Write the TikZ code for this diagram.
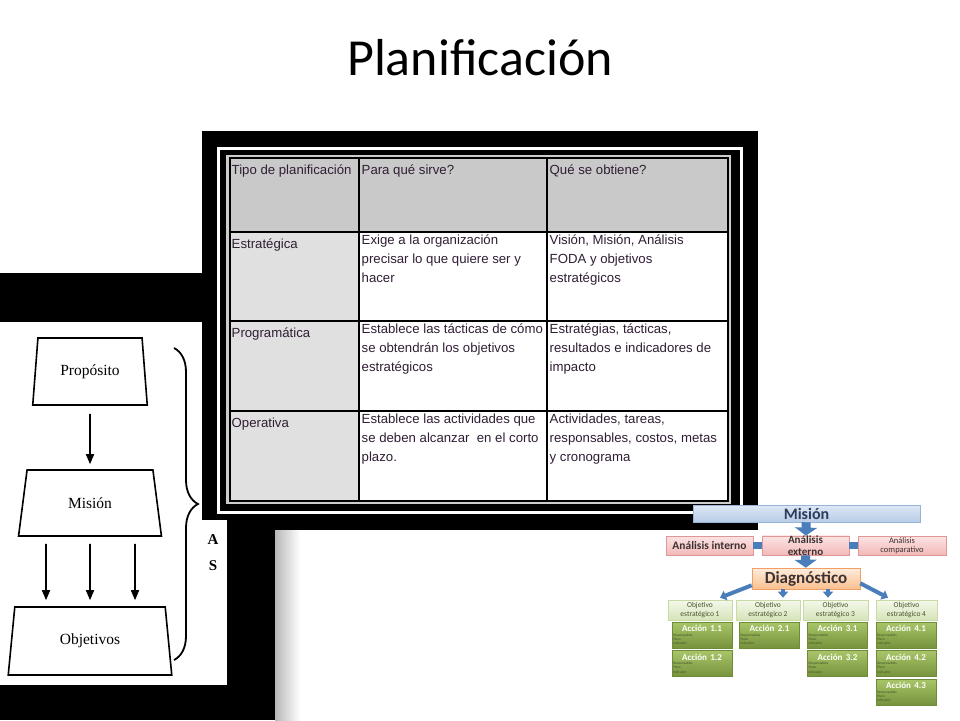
\documentclass[tikz,border=0pt]{standalone}
\usepackage{fontspec}
\setmainfont{Liberation Serif}
\newfontfamily\calibri{Carlito}
\newfontfamily\arial{Liberation Sans}
\usetikzlibrary{positioning}
\usetikzlibrary{shapes.geometric}
\usetikzlibrary{arrows.meta}
\usetikzlibrary{decorations.pathreplacing}

\definecolor{textotabla}{RGB}{48,30,52}
\definecolor{cabecera}{RGB}{201,201,201}
\definecolor{colgris}{RGB}{224,224,224}
\definecolor{azul}{RGB}{74,126,187}
\definecolor{celeste1}{RGB}{222,232,245}
\definecolor{celeste2}{RGB}{184,204,230}
\definecolor{celeste3}{RGB}{150,180,215}
\definecolor{rosa1}{RGB}{252,228,228}
\definecolor{rosa2}{RGB}{242,184,184}
\definecolor{rosa3}{RGB}{225,150,150}
\definecolor{naranja1}{RGB}{253,236,220}
\definecolor{naranja2}{RGB}{250,192,143}
\definecolor{naranja3}{RGB}{240,160,100}
\definecolor{verdeclaro1}{RGB}{244,248,234}
\definecolor{verdeclaro2}{RGB}{214,228,186}
\definecolor{verdeclaro3}{RGB}{200,218,165}
\definecolor{verde1}{RGB}{168,198,104}
\definecolor{verde2}{RGB}{118,146,60}
\definecolor{verde3}{RGB}{110,140,55}
\definecolor{textocaja}{RGB}{60,50,50}
\definecolor{textomision}{RGB}{45,60,90}
\definecolor{textoobj}{RGB}{70,85,45}

\newcommand{\accion}[1]{{\centering\fontsize{9}{10}\selectfont\bfseries\color{white}Acción #1\par}%
{\raggedright\fontsize{3.6}{4.3}\selectfont\color{textoobj}Responsables\par Plazo\par Indicador\par}}

\tikzset{
	titulo/.style={anchor=base, font=\calibri\fontsize{52}{60}\selectfont},
	celda/.style={anchor=north west, inner sep=1pt, align=left, text=textotabla,
		font=\arial\fontsize{13.2}{19}\selectfont, execute at begin node=\strut},
	rejilla/.style={line width=2pt},
	trap/.style={trapezium, draw, line width=1.6pt, trapezium stretches=true,
		font=\fontsize{15.5}{18}\selectfont},
	flecha/.style={-{Triangle[length=10pt,width=8pt]}, line width=1.6pt},
	llave/.style={line width=1.8pt, decorate, decoration={brace, amplitude=24pt}},
	letra/.style={font=\bfseries\fontsize{15}{18}\selectfont},
	caja/.style={draw, inner sep=0pt, line width=0.6pt, align=center},
	mision/.style={caja, top color=celeste1, bottom color=celeste2, draw=celeste3,
		text=textomision, font=\calibri\bfseries\fontsize{16}{17}\selectfont},
	analisis/.style={caja, top color=rosa1, bottom color=rosa2, draw=rosa3, text=textocaja,
		minimum width=87pt, minimum height=19pt},
	diag/.style={caja, top color=naranja1, bottom color=naranja2, draw=naranja3, text=textocaja,
		font=\calibri\bfseries\fontsize{17}{18}\selectfont},
	objetivo/.style={caja, top color=verdeclaro1, bottom color=verdeclaro2, draw=verdeclaro3,
		text=textoobj, minimum height=20pt, font=\calibri\fontsize{7.5}{8.5}\selectfont},
	accionbox/.style={draw=verde3, line width=0.6pt, top color=verde1, bottom color=verde2,
		inner sep=1pt, text width=58pt, minimum height=26pt, font=\calibri},
	fgrande/.style={azul, line width=9pt, -{Triangle[length=8pt,width=22pt]}},
	fchica/.style={azul, line width=4pt, -{Triangle[length=6pt,width=10pt]}},
	union/.style={azul, line width=7pt}
}

\begin{document}
\begin{tikzpicture}[x=1pt,y=-1pt]
	\useasboundingbox (0,0) rectangle (960,720);
	\fill[white] (0,0) rectangle (960,720);

	\node[titulo] (tit) at (480,75) {Planificación};

	% fondo de la imagen izquierda
	\fill[black] (0,273) rectangle (275,720);
	\shade[left color=black!28, right color=white] (275,530) rectangle (300,720);
	\fill[white] (0,322) rectangle (227,685);

	% marco de la tabla
	\fill[black] (202,131) rectangle (758,530);
	\fill[white] (202,520) rectangle (227,685);
	\draw[white, line width=3pt] (218.5,148) rectangle (741.5,512);
	\draw[black!20, line width=2.5pt] (227.5,156) rectangle (730,503);

	% tabla
	\fill[cabecera] (230,158) rectangle (728,232);
	\fill[colgris] (230,232) rectangle (359,501);
	\fill[white] (359,232) rectangle (728,501);
	\draw[rejilla] (230,158) rectangle (728,501)
		(359,158) -- (359,501) (547,158) -- (547,501)
		(230,232) -- (728,232) (230,321) -- (728,321) (230,411) -- (728,411);

	\node[celda] (t1) at (230.5,160) {Tipo de planificación};
	\node[celda] (t2) at (360.5,160) {Para qué sirve?};
	\node[celda] (t3) at (548.5,160) {Qué se obtiene?};
	\node[celda] (e1) at (230.5,234) {Estratégica};
	\node[celda] (e2) at (360.5,234) {Exige a la organización\\precisar lo que quiere ser y\\hacer};
	\node[celda] (e3) at (548.5,234) {Visión, Misión, Análisis\\FODA y objetivos\\estratégicos};
	\node[celda] (p1) at (230.5,323) {Programática};
	\node[celda] (p2) at (360.5,323) {Establece las tácticas de cómo\\se obtendrán los objetivos\\estratégicos};
	\node[celda] (p3) at (548.5,323) {Estratégias, tácticas,\\resultados e indicadores de\\impacto};
	\node[celda] (op1) at (230.5,413) {Operativa};
	\node[celda] (op2) at (360.5,413) {Establece las actividades que\\se deben alcanzar\ \ en el corto\\plazo.};
	\node[celda] (op3) at (548.5,413) {Actividades, tareas,\\responsables, costos, metas\\y cronograma};

	% diagrama izquierdo
	\node[trap, minimum width=115pt, minimum height=67pt, trapezium angle=81] (prop) at (90,371.5) {Propósito};
	\node[trap, minimum width=143pt, minimum height=66pt, trapezium angle=79] (mis) at (90,503) {Misión};
	\node[trap, minimum width=164pt, minimum height=68pt, trapezium angle=82] (obj) at (90,641) {Objetivos};

	\draw[flecha, shorten <=8pt, shorten >=5pt] (prop) -- (mis);
	\draw[flecha] ([xshift=-44pt,yshift=-7pt]mis.south) -- ([xshift=-44pt,yshift=6pt]obj.north);
	\draw[flecha] ([yshift=-7pt]mis.south) -- ([yshift=6pt]obj.north);
	\draw[flecha] ([xshift=45pt,yshift=-7pt]mis.south) -- ([xshift=45pt,yshift=6pt]obj.north);

	\draw[llave] (174,348) -- (174,660);
	\node[letra] (la) at (213,540) {A};
	\node[letra] (ls) at (213,566) {S};

	% diagrama derecho
	\node[mision, minimum width=227pt, minimum height=17pt] (mision) at (806.5,513.5) {Misión};
	\node[analisis, font=\calibri\bfseries\fontsize{11.5}{12}\selectfont] (interno) at (709.5,545.5) {Análisis interno};
	\node[analisis, font=\calibri\bfseries\fontsize{11}{11.5}\selectfont] (externo) at (805.5,545.5) {Análisis\\externo};
	\node[analisis, minimum width=88pt, font=\calibri\fontsize{8.5}{9.5}\selectfont] (comp) at (902,545.5) {Análisis\\comparativo};
	\node[diag, minimum width=108pt, minimum height=21pt] (diag) at (806,578.5) {Diagnóstico};

	\draw[union] (interno) -- (externo);
	\draw[union] (externo) -- (comp);
	\draw[fgrande] (mision) -- (externo);
	\draw[fgrande] (externo) -- (diag);

	\node[objetivo, minimum width=64pt] (ob1) at (700,610) {Objetivo\\estratégico 1};
	\node[objetivo, minimum width=64pt] (ob2) at (768,610) {Objetivo\\estratégico 2};
	\node[objetivo, minimum width=65pt] (ob3) at (835.5,610) {Objetivo\\estratégico 3};
	\node[objetivo, minimum width=61pt] (ob4) at (906.5,610) {Objetivo\\estratégico 4};

	\draw[fchica] ([yshift=4pt]diag.south west) -- ([xshift=20pt,yshift=2pt]ob1.north);
	\draw[fchica] ([xshift=-23pt]diag.south) -- ([xshift=15pt,yshift=2pt]ob2.north);
	\draw[fchica] ([xshift=22pt]diag.south) -- ([xshift=-7.5pt,yshift=2pt]ob3.north);
	\draw[fchica] ([yshift=6pt]diag.south east) -- ([xshift=-18.5pt,yshift=2pt]ob4.north);

	\node[accionbox] (a11) at (702,635) {\accion{1.1}};
	\node[accionbox, below=2pt of a11] (a12) {\accion{1.2}};
	\node[accionbox] (a21) at (769.5,635) {\accion{2.1}};
	\node[accionbox] (a31) at (837.5,635) {\accion{3.1}};
	\node[accionbox, below=2pt of a31] (a32) {\accion{3.2}};
	\node[accionbox] (a41) at (906,635) {\accion{4.1}};
	\node[accionbox, below=2pt of a41] (a42) {\accion{4.2}};
	\node[accionbox, below=2pt of a42] (a43) {\accion{4.3}};
\end{tikzpicture}
\end{document}
